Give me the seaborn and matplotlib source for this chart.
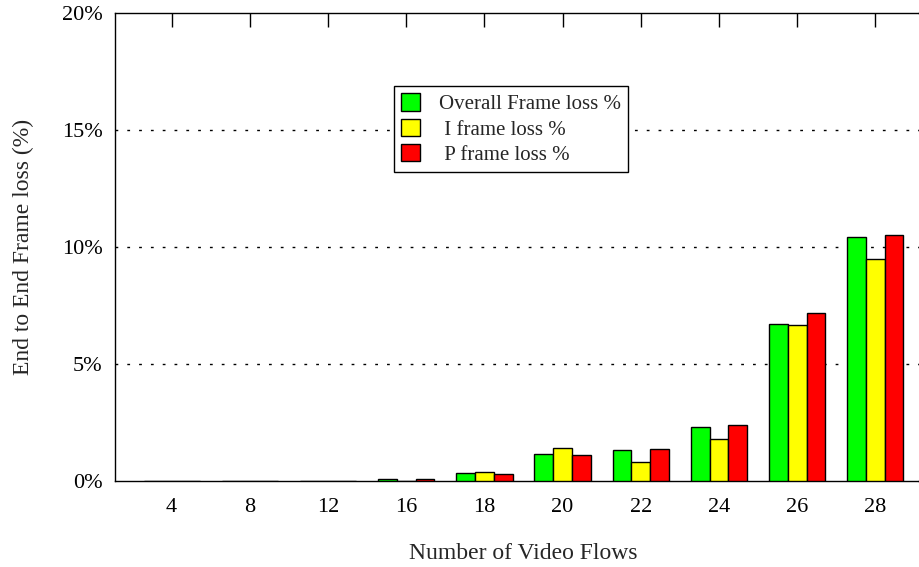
import matplotlib
matplotlib.use("Agg")
import matplotlib.pyplot as plt
import seaborn as sns
import pandas as pd
from matplotlib.patches import Patch
from matplotlib.ticker import FuncFormatter

# data (percent)
flows = [4, 8, 12, 16, 18, 20, 22, 24, 26, 28]
overall_loss = [0.0, 0.0, 0.02, 0.08, 0.33, 1.14, 1.31, 2.32, 6.70, 10.44]
i_frame_loss = [0.0, 0.0, 0.0, 0.0, 0.38, 1.41, 0.83, 1.79, 6.65, 9.49]
p_frame_loss = [0.0, 0.0, 0.02, 0.07, 0.30, 1.11, 1.35, 2.38, 7.17, 10.50]

series_names = ["Overall Frame loss %", " I frame loss %", " P frame loss %"]
colors = ["#00ff00", "#ffff00", "#ff0000"]

# long format for seaborn
rows = []
for name, vals in zip(series_names, [overall_loss, i_frame_loss, p_frame_loss]):
    for f, v in zip(flows, vals):
        rows.append({"flows": str(f), "loss": v, "series": name})
df = pd.DataFrame(rows)

sns.set_style("white")
plt.rcParams["font.family"] = ["Liberation Serif", "DejaVu Serif"]

fig = plt.figure(figsize=(9.2, 5.67), dpi=100)
ax = fig.add_axes([115 / 920, 1 - 481 / 567, 817 / 920, 468 / 567])

sns.barplot(
    data=df, x="flows", y="loss", hue="series",
    palette=colors, saturation=1, width=0.72, gap=0,
    edgecolor="black", linewidth=1.0,
    ax=ax, legend=False, zorder=3,
)

ax.set_xlim(-0.725, 9.725)
ax.set_ylim(0, 20)
ax.set_yticks([0, 5, 10, 15, 20])
ax.yaxis.set_major_formatter(FuncFormatter(lambda v, p: f"{v:.0f}%"))

# dotted grid lines
for y in [5, 10, 15]:
    ax.axhline(y, color="black", lw=1, ls=(0, (2, 6.5)), zorder=1)

for s in ax.spines.values():
    s.set_color("black")
    s.set_linewidth(1)
    s.set_visible(True)

ax.tick_params(axis="both", direction="in", length=10, width=1,
               top=True, right=True, labelsize=16, colors="black")
ax.tick_params(axis="x", pad=12)
ax.tick_params(axis="y", pad=9)

ax.set_xlabel("Number of Video Flows", fontsize=17, labelpad=19)
ax.set_ylabel("End to End Frame loss (%)", fontsize=17, labelpad=20)

handles = [Patch(facecolor=c, edgecolor="black", lw=1) for c in colors]
leg = fig.legend(
    handles, series_names, loc="upper left",
    bbox_to_anchor=(394 / 920, 1 - 86 / 567),
    fontsize=15, frameon=True, fancybox=False, edgecolor="black",
    handlelength=0.9, handleheight=0.9, handletextpad=0.9,
    labelspacing=0.22, borderpad=0.35, borderaxespad=0,
)
leg.get_frame().set_linewidth(1)
leg.get_frame().set_alpha(1)

fig.savefig("out.png", dpi=100)
